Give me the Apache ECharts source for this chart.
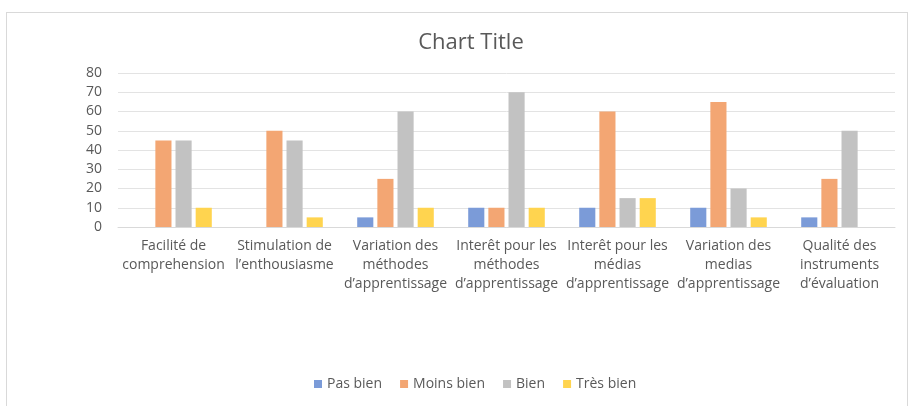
<!DOCTYPE html>
<html><head><meta charset="utf-8">
<script src="https://cdn.jsdelivr.net/npm/echarts@6/dist/echarts.min.js"></script>
<style>html,body{margin:0;padding:0;background:#fff}#c{width:909px;height:406px}
#frame{position:absolute;left:6px;top:12px;width:902px;height:400px;border:1px solid #d9d9d9;box-sizing:border-box;pointer-events:none}</style>
</head><body><div id="c"></div><div id="frame"></div>
<script>
const categories = [
  "Facilité de\ncomprehension",
  "Stimulation de\nl’enthousiasme",
  "Variation des\nméthodes\nd’apprentissage",
  "Interêt pour les\nméthodes\nd’apprentissage",
  "Interêt pour les\nmédias\nd’apprentissage",
  "Variation des\nmedias\nd’apprentissage",
  "Qualité des\ninstruments\nd’évaluation"
];
const seriesNames = ["Pas bien", "Moins bien", "Bien", "Très bien"];
const pasBien   = [0, 0, 5, 10, 10, 10, 5];
const moinsBien = [45, 50, 25, 10, 60, 65, 25];
const bien      = [45, 45, 60, 70, 15, 20, 50];
const tresBien  = [10, 5, 10, 10, 15, 5, 0];
const colors = ["#7B9BD8", "#F3A673", "#C2C2C2", "#FFD44F"];
const values = [pasBien, moinsBien, bien, tresBien];
const font = "'Open Sans',sans-serif";
const chart = echarts.init(document.getElementById('c'));
chart.setOption({
  animation: false,
  color: colors,
  title: {text: "Chart Title", left: 466, top: 27, textAlign: 'center',
    textStyle: {color: '#595959', fontSize: 22, fontWeight: 'normal', fontFamily: font}},
  legend: {bottom: 10, left: 309, itemWidth: 8, itemHeight: 8, itemGap: 18, icon: 'rect',
    textStyle: {color: '#595959', fontSize: 14, fontFamily: font}},
  grid: {left: 118, right: 14, top: 73, bottom: 179, containLabel: false},
  xAxis: {type: 'category', data: categories,
    axisLine: {lineStyle: {color: '#d9d9d9'}}, axisTick: {show: false},
    axisLabel: {interval: 0, color: '#595959', fontSize: 14, lineHeight: 19, margin: 10, fontFamily: font}},
  yAxis: {type: 'value', min: 0, max: 80, interval: 10,
    axisLine: {show: false}, axisTick: {show: false},
    splitLine: {lineStyle: {color: '#e3e3e3'}},
    axisLabel: {color: '#595959', fontSize: 14, margin: 16, fontFamily: font}},
  series: seriesNames.map((n, i) => ({name: n, type: 'bar', data: values[i],
    barGap: '25%', barCategoryGap: '31%'}))
});
</script></body></html>
